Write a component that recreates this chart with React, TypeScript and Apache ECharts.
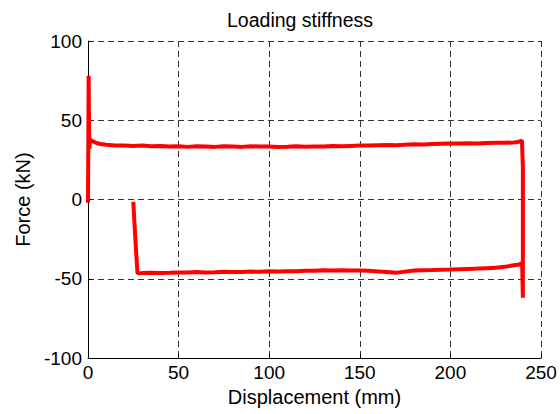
import React, { useEffect, useRef } from "react";
import * as echarts from "echarts";

const titleText = "Loading stiffness";
const xAxisName = "Displacement (mm)";
const yAxisName = "Force (kN)";

// Loading branch (upper)
const loadX = [0, 0.2, 0.35, 0.6, 0.8, 1, 2, 3, 5, 7, 10, 15, 20, 25, 30, 35, 40, 45, 50, 55, 60, 65, 70, 75, 80, 85, 90, 95, 100, 105, 110, 115, 120, 125, 130, 135, 140, 145, 150, 155, 160, 165, 170, 175, 180, 185, 190, 195, 200, 205, 210, 215, 220, 225, 230, 235, 238, 239.5];
const loadY = [-2, 40, 78, 45, 32, 38, 37, 36.5, 35.5, 35, 34.5, 34, 34, 33.8, 34, 33.6, 33.8, 33.4, 33.6, 33.2, 33.6, 33.4, 33.2, 33.6, 33.5, 33.2, 33.6, 33.4, 33.5, 33.2, 33.3, 33.6, 33.3, 33.4, 33.5, 33.8, 33.6, 33.8, 34, 34, 34.2, 34.4, 34.3, 34.6, 34.8, 34.7, 35, 35.2, 35.3, 35.3, 35.5, 35.4, 35.6, 35.8, 35.8, 36, 36.5, 37.2];

// Reversal at the end of the stroke
const turnX = [240, 240, 239.6];
const turnY = [20, -62, -40];

// Unloading branch (lower), from right to left
const unloadX = [238, 235, 230, 225, 220, 215, 210, 205, 200, 195, 190, 185, 180, 175, 170, 165, 160, 155, 150, 145, 140, 135, 130, 125, 120, 115, 110, 105, 100, 95, 90, 85, 80, 75, 70, 65, 60, 55, 50, 45, 40, 35, 30, 27.3, 26.4, 25.6, 25];
const unloadY = [-41, -41.5, -42.5, -43, -43.3, -43.6, -43.8, -44, -44.2, -44.3, -44.5, -44.6, -44.8, -45.5, -46.2, -45.8, -45.4, -45, -44.8, -44.8, -44.6, -44.8, -44.7, -45, -45, -45.2, -45.2, -45.5, -45.3, -45.6, -45.5, -45.7, -45.8, -45.6, -45.9, -46, -45.8, -46.1, -46, -46.2, -46.3, -46.2, -46.4, -46.5, -30, -14, -1.5];

const xTicks = { min: 0, max: 250, interval: 50 };
const yTicks = { min: -100, max: 100, interval: 50 };

export default function App() {
  const ref = useRef<HTMLDivElement>(null);
  useEffect(() => {
    if (!ref.current) return;
    const chart = echarts.init(ref.current, undefined, { renderer: "svg" });
    const data: [number, number][] = [];
    loadX.forEach((x, i) => data.push([x, loadY[i]]));
    turnX.forEach((x, i) => data.push([x, turnY[i]]));
    unloadX.forEach((x, i) => data.push([x, unloadY[i]]));
    const font = "'Liberation Sans', Arial, sans-serif";
    const gridLine = { show: true, lineStyle: { color: "#333", type: [6, 4] as any, width: 1 } };
    chart.setOption({
      animation: false,
      backgroundColor: "#fff",
      title: {
        text: titleText,
        left: 295,
        top: 5,
        textAlign: "center",
        textStyle: { fontFamily: font, fontSize: 19.5, fontWeight: "normal", color: "#000" },
      },
      grid: { left: 88, right: 19, top: 41, bottom: 56, containLabel: false },
      xAxis: {
        type: "value",
        min: xTicks.min,
        max: xTicks.max,
        interval: xTicks.interval,
        name: xAxisName,
        nameLocation: "middle",
        nameGap: 28,
        nameTextStyle: { fontFamily: font, fontSize: 20, color: "#000" },
        axisLine: { show: true, onZero: false, lineStyle: { color: "#000", width: 1 } },
        axisTick: { show: true, inside: true, length: 4, lineStyle: { color: "#000" } },
        axisLabel: { fontFamily: font, fontSize: 19, color: "#000", margin: 5 },
        splitLine: gridLine,
      },
      yAxis: {
        type: "value",
        min: yTicks.min,
        max: yTicks.max,
        interval: yTicks.interval,
        name: yAxisName,
        nameLocation: "middle",
        nameRotate: 90,
        nameGap: 52,
        nameTextStyle: { fontFamily: font, fontSize: 20, color: "#000" },
        axisLine: { show: true, onZero: false, lineStyle: { color: "#000", width: 1 } },
        axisTick: { show: true, inside: true, length: 4, lineStyle: { color: "#000" } },
        axisLabel: { fontFamily: font, fontSize: 19, color: "#000", margin: 6 },
        splitLine: gridLine,
      },
      series: [
        {
          type: "line",
          data,
          showSymbol: false,
          symbol: "none",
          lineStyle: { color: "#ff0000", width: 4 },
          itemStyle: { color: "#ff0000" },
          clip: true,
        },
      ],
    });
    return () => chart.dispose();
  }, []);
  return (
    <div
      ref={ref}
      style={{ position: "fixed", left: 0, top: 0, width: 560, height: 414, background: "#fff" }}
    />
  );
}
